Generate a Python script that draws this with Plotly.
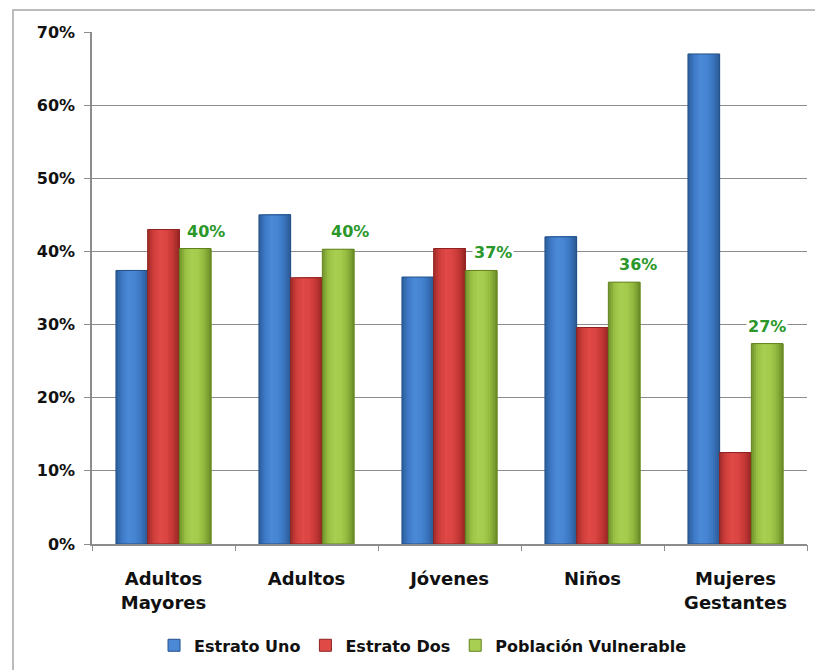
import plotly.graph_objects as go

# Chart data (percent)
categories = ["Adultos<br>Mayores", "Adultos", "Jóvenes", "Niños", "Mujeres<br>Gestantes"]
estrato_uno = [37.4, 45.0, 36.5, 42.0, 67.0]
estrato_dos = [43.0, 36.4, 40.4, 29.6, 12.5]
poblacion_vulnerable = [40.4, 40.3, 37.4, 35.8, 27.4]
y_ticks = [0, 10, 20, 30, 40, 50, 60, 70]

# shading profile across each bar (left edge -> right edge) to give a rounded look
series = [
    ("Estrato Uno", estrato_uno,
     ["#2C5C98", "#3F7BC9", "#4B89D6", "#4685D2", "#3A74BE", "#2B5890"]),
    ("Estrato Dos", estrato_dos,
     ["#A02C2A", "#D23F3C", "#DF4A47", "#DA4542", "#C23735", "#932523"]),
    ("Población Vulnerable", poblacion_vulnerable,
     ["#71922C", "#9CC345", "#A9CF52", "#A4CA4C", "#90B63C", "#688A26"]),
]
edge_colors = ["#24508A", "#8E2321", "#62821F"]

BARGAP = 0.335
bar_w = (1 - BARGAP) / len(series)
N_STRIPES = 14


def hex_to_rgb(h):
    h = h.lstrip("#")
    return tuple(int(h[i:i + 2], 16) for i in (0, 2, 4))


def profile_color(stops, t):
    pos = t * (len(stops) - 1)
    i = min(int(pos), len(stops) - 2)
    f = pos - i
    a, b = hex_to_rgb(stops[i]), hex_to_rgb(stops[i + 1])
    c = [round(a[k] + (b[k] - a[k]) * f) for k in range(3)]
    return f"rgb({c[0]},{c[1]},{c[2]})"


x_idx = list(range(len(categories)))
fig = go.Figure()
for s, (name, vals, stops) in enumerate(series):
    left = -(1 - BARGAP) / 2 + s * bar_w
    sw = bar_w / N_STRIPES
    for k in range(N_STRIPES):
        t = (k + 0.5) / N_STRIPES
        # each stripe runs to the right edge so the next one covers it without seams
        fig.add_trace(go.Bar(
            name=name, x=x_idx, y=vals,
            offset=left + k * sw, width=bar_w - k * sw,
            marker=dict(color=profile_color(stops, t), line=dict(width=0)),
            showlegend=False, legendgroup=name, hoverinfo="skip",
        ))
    # thin outline around the whole bar; also carries the legend entry
    fig.add_trace(go.Bar(
        name=name, x=x_idx, y=vals, offset=left, width=bar_w,
        marker=dict(color="rgba(0,0,0,0)", line=dict(color=edge_colors[s], width=1)),
        showlegend=False, legendgroup=name, hoverinfo="skip",
    ))
    # legend swatch
    fig.add_trace(go.Bar(
        name=name, x=[None], y=[None],
        marker=dict(color=profile_color(stops, 0.4), line=dict(color=edge_colors[s], width=1)),
        showlegend=True, legendgroup=name,
    ))

# value labels above the "Población Vulnerable" bars
label_dx = [11, 12, 12, 14, 0]
annotations = []
for i, v in enumerate(poblacion_vulnerable):
    annotations.append(dict(
        x=i + bar_w, y=v, xref="x", yref="y",
        text=f"{round(v)}%", showarrow=False,
        yanchor="bottom", yshift=6, xshift=label_dx[i],
        bgcolor="white", borderpad=1,
        font=dict(family="DejaVu Sans", size=16, color="#2A972A", weight="bold"),
    ))

x_range = [-0.5, len(categories) - 0.5]
fig.update_layout(
    width=815, height=670,
    margin=dict(l=92, r=8, t=32, b=126),
    paper_bgcolor="white", plot_bgcolor="white",
    barmode="overlay",
    annotations=annotations,
    showlegend=True,
    legend=dict(
        orientation="h", x=0.463, xanchor="center", y=-0.198, yanchor="middle",
        font=dict(family="DejaVu Sans", size=16, color="#111111", weight="bold"),
        itemwidth=30, traceorder="normal",
    ),
    shapes=[dict(
        type="rect", xref="paper", yref="paper",
        x0=-0.1105, x1=1.05, y0=-0.35, y1=1.043,
        line=dict(color="#A6A6A6", width=1.5), fillcolor="rgba(0,0,0,0)", layer="below",
    )],
    xaxis=dict(
        range=x_range, tickvals=x_idx, ticktext=categories,
        showline=True, linecolor="#8C8C8C", linewidth=1.5,
        ticks="", showgrid=False, zeroline=False,
        tickfont=dict(family="DejaVu Sans", size=18, color="#111111", weight="bold"),
        ticklabelstandoff=18,
    ),
    # second axis only supplies tick marks at the category boundaries
    xaxis2=dict(
        overlaying="x", side="bottom", range=x_range,
        tickvals=[i - 0.5 for i in range(len(categories) + 1)],
        ticks="outside", ticklen=6, tickcolor="#8C8C8C", tickwidth=1.3,
        showticklabels=False, showgrid=False, zeroline=False, showline=False,
    ),
    yaxis=dict(
        range=[0, 70], tickvals=y_ticks, ticktext=[f"{v}%" for v in y_ticks],
        showline=True, linecolor="#8C8C8C", linewidth=1.5,
        ticks="outside", ticklen=6, tickcolor="#8C8C8C",
        showgrid=True, gridcolor="#8C8C8C", gridwidth=1.3,
        tickfont=dict(family="DejaVu Sans", size=16, color="#111111", weight="bold"),
        ticklabelstandoff=6,
        zeroline=False,
    ),
)
# an invisible trace keeps the boundary tick axis active
fig.add_trace(go.Scatter(x=[None], y=[None], xaxis="x2", showlegend=False, hoverinfo="skip"))

fig.write_html("out.html")
